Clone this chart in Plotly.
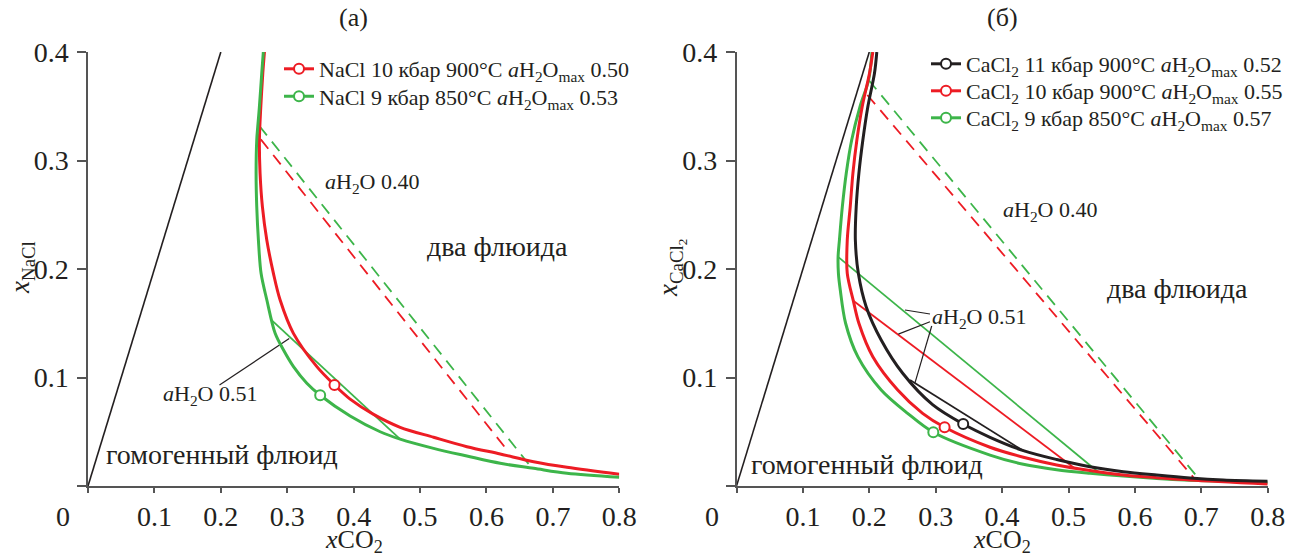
import plotly.graph_objects as go

W, H = 1299, 557
FONT = "Liberation Serif"
RED = "#ED1C24"
GREEN = "#3DB54A"
BLACK = "#231F20"
AXC = "#555555"

# ---------------- panel (a): NaCl ----------------
nacl10_x = [0.2657, 0.2632, 0.2602, 0.2581, 0.2591, 0.2626, 0.2692, 0.2792, 0.2893, 0.3093,
            0.3446, 0.3711, 0.3947, 0.4300, 0.4700, 0.5203, 0.5705, 0.6207, 0.6710, 0.7212, 0.8000]
nacl10_y = [0.4000, 0.3804, 0.3496, 0.3189, 0.2882, 0.2574, 0.2267, 0.1960, 0.1714, 0.1407,
            0.1100, 0.0931, 0.0801, 0.0660, 0.0541, 0.0449, 0.0362, 0.0295, 0.0224, 0.0172, 0.0108]
nacl9_x = [0.2640, 0.2616, 0.2581, 0.2556, 0.2541, 0.2531, 0.2541, 0.2566, 0.2606, 0.2693,
           0.2818, 0.2944, 0.3094, 0.3295, 0.3496, 0.3947, 0.4399, 0.4700, 0.5203,
           0.5705, 0.6207, 0.6710, 0.7212, 0.8000]
nacl9_y = [0.4000, 0.3804, 0.3496, 0.3312, 0.3189, 0.2882, 0.2574, 0.2267, 0.1960, 0.1714,
           0.1407, 0.1253, 0.1100, 0.0947, 0.0836, 0.0645, 0.0500, 0.0432, 0.0347,
           0.0276, 0.0209, 0.0163, 0.0117, 0.0080]
nacl10_pt = (0.3711, 0.0931)
nacl9_pt = (0.3496, 0.0836)
nacl10_a040_x = [0.2602, 0.6318]
nacl10_a040_y = [0.3195, 0.0325]
nacl9_a040_x = [0.2581, 0.6686]
nacl9_a040_y = [0.3318, 0.0163]
nacl9_a051_x = [0.2752, 0.4700]
nacl9_a051_y = [0.1536, 0.0432]
limit_x = [0.0, 0.2]
limit_y = [0.0, 0.4]
a_ptr_x = [0.198, 0.303]
a_ptr_y = [0.093, 0.136]

# ---------------- panel (б): CaCl2 ----------------
cacl11_x = [0.2113, 0.2078, 0.1978, 0.1903, 0.1843, 0.1803, 0.1790, 0.1835, 0.1953, 0.2179,
            0.2503, 0.2953, 0.3414, 0.3818, 0.4320, 0.4822, 0.5324, 0.5825, 0.6328, 0.6830,
            0.7330, 0.8000]
cacl11_y = [0.4000, 0.3804, 0.3496, 0.3189, 0.2882, 0.2574, 0.2267, 0.1960, 0.1653, 0.1346,
            0.1039, 0.0750, 0.0571, 0.0449, 0.0326, 0.0244, 0.0178, 0.0132, 0.0101, 0.0074,
            0.0055, 0.0043]
cacl10_x = [0.2053, 0.2003, 0.1893, 0.1813, 0.1753, 0.1713, 0.1668, 0.1668, 0.1759, 0.1843,
            0.2053, 0.2428, 0.2803, 0.3134, 0.3818, 0.4320, 0.4822, 0.5324, 0.5825, 0.6328,
            0.6830, 0.8000]
cacl10_y = [0.4000, 0.3804, 0.3496, 0.3189, 0.2882, 0.2574, 0.2267, 0.1960, 0.1708, 0.1500,
            0.1192, 0.0885, 0.0670, 0.0541, 0.0357, 0.0265, 0.0194, 0.0142, 0.0101, 0.0077,
            0.0055, 0.0018]
cacl9_x = [0.2040, 0.1990, 0.1860, 0.1735, 0.1653, 0.1594, 0.1550, 0.1530, 0.1535, 0.1563,
           0.1643, 0.1827, 0.2179, 0.2577, 0.2964, 0.3818, 0.4320, 0.4822, 0.5324, 0.5825,
           0.6328, 0.6830, 0.8000]
cacl9_y = [0.4000, 0.3742, 0.3496, 0.3189, 0.2882, 0.2574, 0.2267, 0.2112, 0.1960, 0.1806,
           0.1500, 0.1192, 0.0885, 0.0670, 0.0495, 0.0285, 0.0200, 0.0150, 0.0118, 0.0092,
           0.0070, 0.0054, 0.0030]
cacl11_pt = (0.3414, 0.0571)
cacl10_pt = (0.3134, 0.0541)
cacl9_pt = (0.2964, 0.0495)
cacl10_a040_x = [0.1970, 0.6880]
cacl10_a040_y = [0.3604, 0.0080]
cacl9_a040_x = [0.1990, 0.6970]
cacl9_a040_y = [0.3742, 0.0062]
cacl11_a051_x = [0.2613, 0.4340]
cacl11_a051_y = [0.0977, 0.0317]
cacl10_a051_x = [0.1759, 0.5097]
cacl10_a051_y = [0.1708, 0.0162]
cacl9_a051_x = [0.1530, 0.5474]
cacl9_a051_y = [0.2112, 0.0115]
b_ptr1_x = [0.2914, 0.2538]
b_ptr1_y = [0.1585, 0.1622]
b_ptr2_x = [0.2914, 0.2437]
b_ptr2_y = [0.1514, 0.1400]
b_ptr3_x = [0.2940, 0.2688]
b_ptr3_y = [0.1475, 0.0950]

x_ticks = [0, 0.1, 0.2, 0.3, 0.4, 0.5, 0.6, 0.7, 0.8]
x_ticktext = ["", "0.1", "0.2", "0.3", "0.4", "0.5", "0.6", "0.7", "0.8"]
y_ticks = [0, 0.1, 0.2, 0.3, 0.4]
y_ticktext = ["", "0.1", "0.2", "0.3", "0.4"]

leg_a = ["NaCl 10 кбар 900°C <i>a</i>H<sub>2</sub>O<sub>max</sub> 0.50",
         "NaCl 9 кбар 850°C <i>a</i>H<sub>2</sub>O<sub>max</sub> 0.53"]
leg_b = ["CaCl<sub>2</sub> 11 кбар 900°C <i>a</i>H<sub>2</sub>O<sub>max</sub> 0.52",
         "CaCl<sub>2</sub> 10 кбар 900°C <i>a</i>H<sub>2</sub>O<sub>max</sub> 0.55",
         "CaCl<sub>2</sub> 9 кбар 850°C <i>a</i>H<sub>2</sub>O<sub>max</sub> 0.57"]

fig = go.Figure()

def line(x, y, color, width, xa, ya, dash="solid"):
    fig.add_trace(go.Scatter(x=x, y=y, mode="lines", xaxis=xa, yaxis=ya, showlegend=False,
                             line=dict(color=color, width=width, dash=dash), hoverinfo="skip"))

def curve(x, y, color, xa, ya):
    fig.add_trace(go.Scatter(x=x, y=y, mode="lines", xaxis=xa, yaxis=ya, showlegend=False,
                             line=dict(color=color, width=3, shape="spline", smoothing=0.9),
                             hoverinfo="skip"))

def point(pt, color, name, xa, ya, legend):
    fig.add_trace(go.Scatter(x=[pt[0]], y=[pt[1]], mode="lines+markers", xaxis=xa, yaxis=ya,
                             name=name, legend=legend,
                             line=dict(color=color, width=3),
                             marker=dict(symbol="circle", size=10, color="white",
                                         line=dict(color=color, width=2)),
                             cliponaxis=False))

DASH = "12px,8px"
# panel (a)
line(limit_x, limit_y, BLACK, 1.6, "x", "y")
line(nacl10_a040_x, nacl10_a040_y, RED, 1.8, "x", "y", DASH)
line(nacl9_a040_x, nacl9_a040_y, GREEN, 1.8, "x", "y", DASH)
line(nacl9_a051_x, nacl9_a051_y, GREEN, 1.8, "x", "y")
line(a_ptr_x, a_ptr_y, BLACK, 1.2, "x", "y")
curve(nacl10_x, nacl10_y, RED, "x", "y")
curve(nacl9_x, nacl9_y, GREEN, "x", "y")
point(nacl10_pt, RED, leg_a[0], "x", "y", "legend")
point(nacl9_pt, GREEN, leg_a[1], "x", "y", "legend2")

# panel (б)
line(limit_x, limit_y, BLACK, 1.6, "x2", "y2")
line(cacl10_a040_x, cacl10_a040_y, RED, 1.8, "x2", "y2", DASH)
line(cacl9_a040_x, cacl9_a040_y, GREEN, 1.8, "x2", "y2", DASH)
line(cacl9_a051_x, cacl9_a051_y, GREEN, 1.8, "x2", "y2")
line(cacl10_a051_x, cacl10_a051_y, RED, 1.8, "x2", "y2")
line(cacl11_a051_x, cacl11_a051_y, BLACK, 1.8, "x2", "y2")
for px, py in [(b_ptr1_x, b_ptr1_y), (b_ptr2_x, b_ptr2_y), (b_ptr3_x, b_ptr3_y)]:
    line(px, py, BLACK, 1.2, "x2", "y2")
curve(cacl9_x, cacl9_y, GREEN, "x2", "y2")
curve(cacl10_x, cacl10_y, RED, "x2", "y2")
curve(cacl11_x, cacl11_y, BLACK, "x2", "y2")
point(cacl11_pt, BLACK, leg_b[0], "x2", "y2", "legend3")
point(cacl10_pt, RED, leg_b[1], "x2", "y2", "legend4")
point(cacl9_pt, GREEN, leg_b[2], "x2", "y2", "legend5")

ax_common = dict(showgrid=False, zeroline=False, showline=True, linecolor=AXC, linewidth=1.5,
                 ticks="outside", tickwidth=1.5, tickcolor=AXC, automargin=False,
                 tickfont=dict(family=FONT, size=28, color=BLACK), fixedrange=True)
xa_extra = dict(ticklen=5)
ya_extra = dict(ticklen=9, ticklabelstandoff=3)

YD = [1 - 486 / H, 1 - 52 / H]

def leg(xp, yp):
    return dict(x=xp / W, y=1 - yp / H, xanchor="left", yanchor="middle",
                bgcolor="rgba(0,0,0,0)", borderwidth=0,
                font=dict(family=FONT, size=22, color=BLACK))

fig.update_layout(
    width=W, height=H, margin=dict(l=0, r=0, t=0, b=0, autoexpand=False),
    paper_bgcolor="white", plot_bgcolor="white",
    font=dict(family=FONT, color=BLACK, size=20),
    xaxis=dict(domain=[88 / W, 619.3 / W], range=[0, 0.8], tickvals=x_ticks, ticktext=x_ticktext,
               anchor="y", **ax_common, **xa_extra),
    yaxis=dict(domain=YD, range=[0, 0.4], tickvals=y_ticks, ticktext=y_ticktext,
               anchor="x", **ax_common, **ya_extra),
    xaxis2=dict(domain=[736.5 / W, 1267.7 / W], range=[0, 0.8], tickvals=x_ticks,
                ticktext=x_ticktext, anchor="y2", **ax_common, **xa_extra),
    yaxis2=dict(domain=YD, range=[0, 0.4], tickvals=y_ticks, ticktext=y_ticktext,
                anchor="x2", **ax_common, **ya_extra),
    legend=leg(279, 69), legend2=leg(279, 96.5),
    legend3=leg(926, 64), legend4=leg(926, 91), legend5=leg(926, 118),
)

def ann_paper(text, xp, yp, size=26, angle=0):
    fig.add_annotation(text=text, x=xp / W, y=1 - yp / H, xref="paper", yref="paper",
                       showarrow=False, xanchor="center", yanchor="middle", textangle=angle,
                       font=dict(family=FONT, size=size, color=BLACK))

def ann_data(text, x, y, xa, ya, size=22, anchor="center"):
    fig.add_annotation(text=text, x=x, y=y, xref=xa, yref=ya, showarrow=False,
                       xanchor=anchor, yanchor="middle",
                       font=dict(family=FONT, size=size, color=BLACK))

ann_paper("(a)", 353.5, 18, 26)
ann_paper("(б)", 1002, 18, 26)
ann_paper("<i>x</i>CO<sub>2</sub>", 353.5, 541, 26)
ann_paper("<i>x</i>CO<sub>2</sub>", 1002, 541, 26)
ann_paper("<i>x</i><sub>NaCl</sub>", 22, 267, 27, -90)
ann_paper("<i>x</i><sub>CaCl<sub>2</sub></sub>", 671, 268, 27, -90)
ann_paper("0", 63, 516, 28)
ann_paper("0", 712, 516, 28)

ann_data("<i>a</i>H<sub>2</sub>O 0.40", 0.428, 0.279, "x", "y")
ann_data("два флюида", 0.616, 0.2203, "x", "y", 28)
ann_data("гомогенный флюид", 0.202, 0.0286, "x", "y", 28)
ann_data("<i>a</i>H<sub>2</sub>O 0.51", 0.1838, 0.0839, "x", "y")
ann_data("<i>a</i>H<sub>2</sub>O 0.40", 0.472, 0.2535, "x2", "y2")
ann_data("два флюида", 0.6634, 0.1816, "x2", "y2", 28)
ann_data("гомогенный флюид", 0.1965, 0.0194, "x2", "y2", 28)
ann_data("<i>a</i>H<sub>2</sub>O 0.51", 0.292, 0.155, "x2", "y2", 22, "left")

fig.write_html("out.html")
